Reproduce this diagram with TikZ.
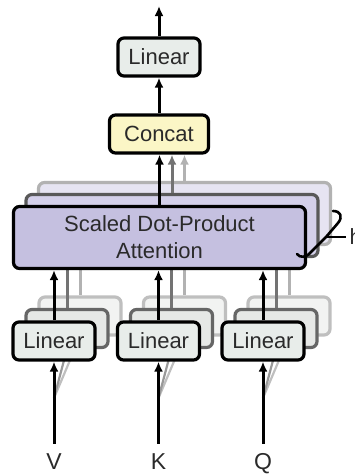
\documentclass[tikz,border=0pt]{standalone}
\usepackage{fontspec}
\setmainfont{Liberation Sans}
\usetikzlibrary{arrows.meta}
\definecolor{linfill}{HTML}{E8EDEA}
\definecolor{catfill}{HTML}{FBF6C6}
\definecolor{attfill}{HTML}{C5C0E0}
\definecolor{attfillb}{HTML}{D4D0EA}
\definecolor{attfillc}{HTML}{E6E4F2}
\definecolor{linfillb}{HTML}{E6E8E6}
\definecolor{linfillc}{HTML}{F2F3F2}
\definecolor{txt}{HTML}{2A2A2A}
\begin{document}
\begin{tikzpicture}[x=1pt,y=-1pt,
  lbl/.style={font=\fontsize{22}{26}\selectfont, text=txt, inner sep=0pt},
  box/.style={lbl, draw=black, line width=3.2pt, rounded corners=6pt, minimum height=38pt},
  linbox/.style={box, fill=linfill, minimum width=82pt},
  linboxb/.style={linbox, draw=black!60, fill=linfillb},
  linboxc/.style={linbox, draw=black!25, fill=linfillc},
  attbox/.style={box, fill=attfill, minimum width=292pt, minimum height=62pt, align=center, font=\fontsize{22}{27}\selectfont},
  attboxb/.style={attbox, draw=black!65, fill=attfillb},
  attboxc/.style={attbox, draw=black!30, fill=attfillc},
  arr/.style={line width=3pt, -{Latex[length=10pt,width=9pt]}},
  arrb/.style={arr, draw=black!55},
  arrc/.style={arr, draw=black!30},
  shadowin/.style={line width=2.2pt, draw=black!40},
  inlbl/.style={font=\fontsize{23}{27}\selectfont, text=txt, inner sep=0pt},
]
\useasboundingbox (0,0) rectangle (355,475);

% back attention heads
\node[attboxc] (att3) at (184.5,213.5) {};
\node[attboxb] (att2) at (172,225.5) {};

% top part
\node[linbox] (out) at (159,57) {Linear};
\node[box, fill=catfill, minimum width=99pt] (concat) at (159,134) {Concat};
\coordinate (top) at (159,6);
\draw[arr] (out) -- (top);
\draw[arr] (concat) -- (out);
\draw[arrc] (att3.north) -- (att3.north |- concat.south);
\draw[arrb] (att2.north) -- (att2.north |- concat.south);

% lower linear copies
\foreach \n/\x in {v/54,k/158.5,q/263}{
  \node[linboxc] (\n3) at (\x+26,316) {};
  \node[linboxb] (\n2) at (\x+13,328.5) {};
  \draw[arrc] (\n3.north) -- (\n3.north |- att3.south);
  \draw[arrb] (\n2.north) -- (\n2.north |- att2.south);
  \coordinate (\n in) at (\x,398);
  \draw[shadowin, draw=black!25] (\n in) -- (\n3.south);
  \draw[shadowin] (\n in) -- (\n2.south);
}

% front attention
\node[attbox] (att1) at (159.5,237.5) {Scaled Dot-Product\\Attention};
\draw[arr] (att1.north) -- (concat.south -| att1.north);

% front linear boxes and inputs
\node[linbox] (v1) at (54,341) {Linear};
\node[linbox] (k1) at (158.5,341) {Linear};
\node[linbox] (q1) at (263,341) {Linear};
\node[inlbl, anchor=base] (V) at (54,469) {V};
\node[inlbl, anchor=base] (K) at (158.5,469) {K};
\node[inlbl, anchor=base] (Q) at (263,469) {Q};
\foreach \n/\m in {v/V,k/K,q/Q}{
  \draw[arr] ([yshift=9pt]\m.north) -- (\n1.south);
  \draw[arr] (\n1.north) -- (\n1.north |- att1.south);
}

% brace and h
\node[lbl, anchor=west] (h) at (349.5,237) {h};
\coordinate (btip) at (326,237);
\draw[line width=2.6pt, line cap=round, line join=round]
  (333,211) .. controls (341,211) and (343,217) .. (338,223)
  -- (btip) -- (311,252) .. controls (306,258) and (300,258) .. (297,254);
\draw[line width=2.6pt] (btip) -- ([xshift=-4pt]h.west);
\end{tikzpicture}
\end{document}
